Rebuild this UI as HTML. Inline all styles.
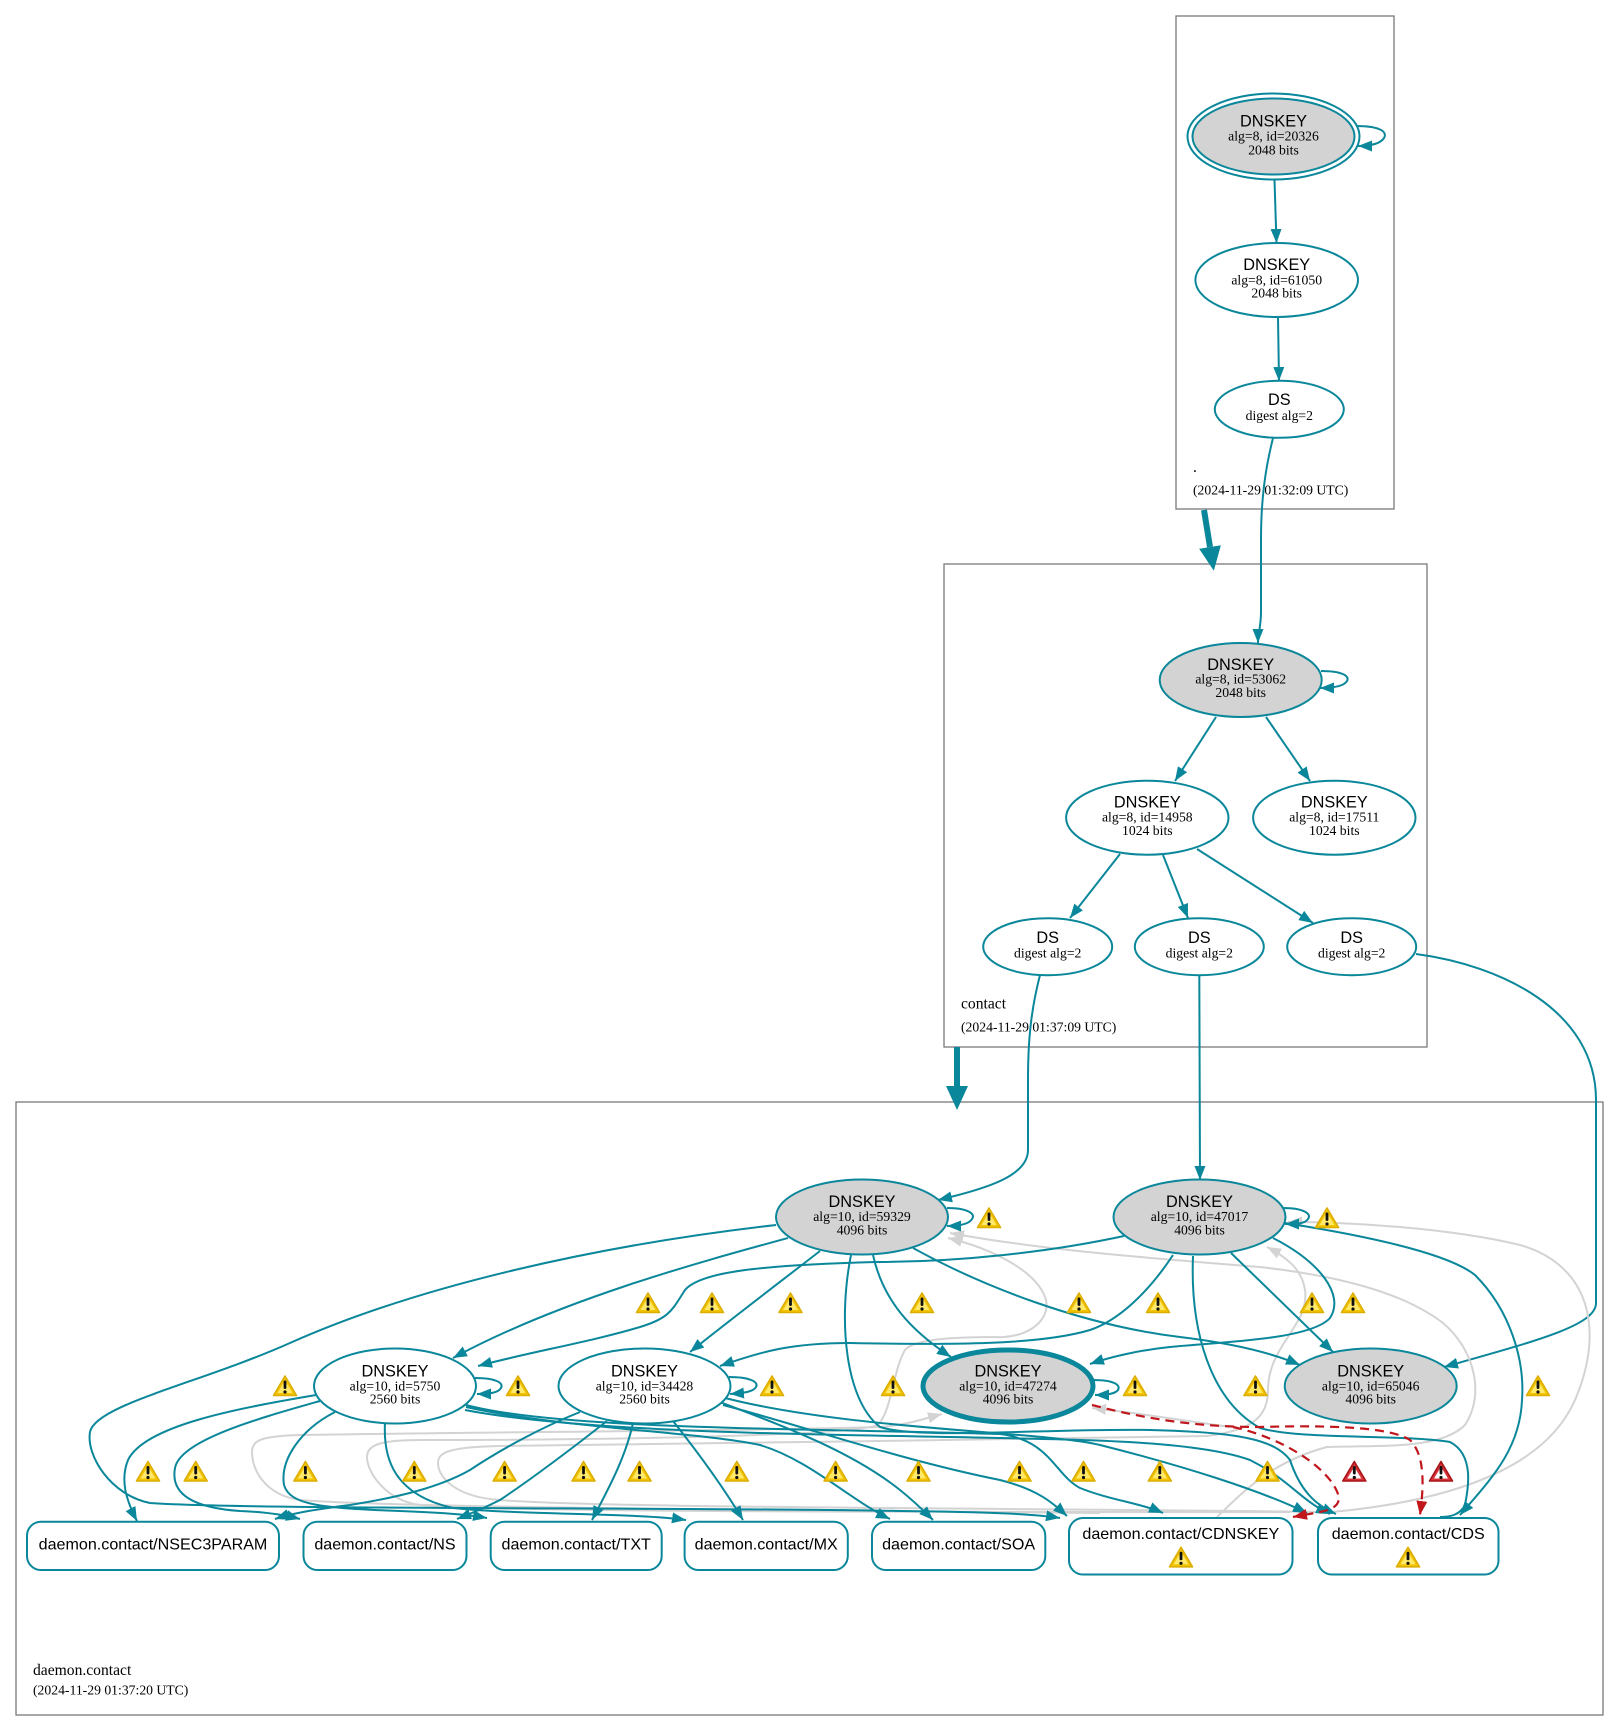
<!DOCTYPE html>
<html>
<head>
<meta charset="utf-8">
<style>
html,body{margin:0;padding:0;background:#fff;}
svg{display:block;}
.sans{font-family:"Liberation Sans",Arial,sans-serif;}
.serif{font-family:"Liberation Serif","Times New Roman",serif;}
</style>
</head>
<body>
<svg width="1619" height="1730" viewBox="0 0 1619 1730" xmlns="http://www.w3.org/2000/svg">
<defs>
  <marker id="at" viewBox="0 0 14 11" refX="14" refY="5.5" markerWidth="14" markerHeight="11" markerUnits="userSpaceOnUse" orient="auto">
    <path d="M0,0L14,5.5L0,11z" fill="#0a879a"/>
  </marker>
  <marker id="ag" viewBox="0 0 14 11" refX="14" refY="5.5" markerWidth="14" markerHeight="11" markerUnits="userSpaceOnUse" orient="auto">
    <path d="M0,0L14,5.5L0,11z" fill="#d3d3d3"/>
  </marker>
  <marker id="ar" viewBox="0 0 14 11" refX="14" refY="5.5" markerWidth="14" markerHeight="11" markerUnits="userSpaceOnUse" orient="auto">
    <path d="M0,0L14,5.5L0,11z" fill="#c0161c"/>
  </marker>
  <marker id="ath" viewBox="0 0 24 22" refX="0" refY="11" markerWidth="24" markerHeight="22" markerUnits="userSpaceOnUse" orient="auto">
    <path d="M0,0L24,11L0,22z" fill="#0a879a"/>
  </marker>
  <g id="warn">
    <path d="M0,-10 L11.5,9.5 L-11.5,9.5 Z" fill="#f3c300" stroke="#dcae00" stroke-width="1.6" stroke-linejoin="round"/>
    <path d="M0,-5.5 L7.5,7 L-7.5,7 Z" fill="#ffe96a"/>
    <rect x="-1.4" y="-5.5" width="2.8" height="8.5" rx="1.2" fill="#111"/>
    <circle cx="0" cy="6" r="1.6" fill="#111"/>
  </g>
  <g id="warnr">
    <path d="M0,-10 L11.5,9.5 L-11.5,9.5 Z" fill="#d9333a" stroke="#a8141a" stroke-width="1.6" stroke-linejoin="round"/>
    <path d="M0,-4.5 L7,7 L-7,7 Z" fill="#fff"/>
    <rect x="-1.4" y="-5.5" width="2.8" height="8.5" rx="1.2" fill="#111"/>
    <circle cx="0" cy="6" r="1.6" fill="#111"/>
  </g>
</defs>

<rect x="0" y="0" width="1619" height="1730" fill="#fff"/>

<!-- ================= clusters ================= -->
<rect x="1176" y="16" width="218" height="493" fill="none" stroke="#7a7a7a" stroke-width="1.3"/>
<rect x="944" y="564" width="483" height="483" fill="none" stroke="#7a7a7a" stroke-width="1.3"/>
<rect x="16" y="1102" width="1587" height="613" fill="none" stroke="#7a7a7a" stroke-width="1.3"/>

<g class="serif" fill="#000">
  <text x="1193" y="472" font-size="15.6">.</text>
  <text x="1193" y="494.3" font-size="13.7">(2024-11-29 01:32:09 UTC)</text>
  <text x="961" y="1008.3" font-size="15.6">contact</text>
  <text x="961" y="1031.7" font-size="13.7">(2024-11-29 01:37:09 UTC)</text>
  <text x="33" y="1675" font-size="15.6">daemon.contact</text>
  <text x="33" y="1694.3" font-size="13.7">(2024-11-29 01:37:20 UTC)</text>
</g>

<!-- ================= top + contact edges ================= -->
<g fill="none" stroke="#0a879a" stroke-width="2">
  <path d="M1356,126 C1378,126 1388,131 1384,138 C1381,143 1372,146 1358,146" marker-end="url(#at)"/>
  <path d="M1274.5,180 L1276.5,243" marker-end="url(#at)"/>
  <path d="M1278,317 L1279,381" marker-end="url(#at)"/>
  <path d="M1273,438 C1265,470 1261,500 1261,540 L1261,612 C1261,626 1258,634 1258,643" marker-end="url(#at)"/>
  <path d="M1321,671 C1342,671 1350,676 1347,681 C1344,686 1335,688 1320,688" marker-end="url(#at)"/>
  <path d="M1216,717 L1175,781" marker-end="url(#at)"/>
  <path d="M1266,717 L1310,781" marker-end="url(#at)"/>
  <path d="M1120,854 L1070,918" marker-end="url(#at)"/>
  <path d="M1163,855 L1188,918" marker-end="url(#at)"/>
  <path d="M1197,849 L1313,923" marker-end="url(#at)"/>
  <!-- DS -> daemon -->
  <path d="M1040,975 C1031,1010 1028,1040 1028,1080 L1028,1150 C1028,1175 990,1188 938,1200" marker-end="url(#at)"/>
  <path d="M1199.3,975 L1200,1180" marker-end="url(#at)"/>
  <path d="M1416,954 C1500,965 1596,1010 1596,1100 L1596,1303 C1596,1325 1540,1340 1444,1367" marker-end="url(#at)"/>
</g>
<!-- thick delegation arrows -->
<g fill="none" stroke="#0a879a" stroke-width="6">
  <path d="M1204,510 L1210,547" marker-end="url(#ath)"/>
  <path d="M957,1047 L957,1086" marker-end="url(#ath)"/>
</g>

<!-- ================= bottom gray edges ================= -->
<g fill="none" stroke="#d3d3d3" stroke-width="2">
  <path d="M1100,1513 C800,1510 400,1508 300,1500 C265,1495 252,1470 252,1452 C252,1440 262,1436 300,1435 C500,1432 800,1430 880,1427 C905,1425 920,1420 942,1414" marker-end="url(#ag)"/>
  <path d="M1290,1512 C900,1512 500,1512 420,1505 C385,1500 367,1472 367,1457 C367,1445 380,1440 420,1440 C600,1440 850,1436 878,1425 C892,1410 893,1370 905,1350 C915,1338 960,1337 1004,1337 C1035,1335 1052,1315 1045,1297 C1035,1270 990,1248 948,1238" marker-end="url(#ag)"/>
  <path d="M1330,1512 C1000,1508 600,1508 500,1500 C455,1497 438,1477 438,1463 C438,1452 450,1447 500,1446 C700,1443 1000,1440 1207,1436 C1255,1430 1268,1415 1268,1390 C1268,1345 1310,1325 1305,1290 C1302,1270 1288,1258 1267,1247" marker-end="url(#ag)"/>
  <path d="M1320,1513 C1420,1505 1540,1480 1575,1400 C1605,1330 1590,1265 1520,1245 C1450,1228 1350,1222 1288,1222" marker-end="url(#ag)"/>
  <path d="M1217,1517 C1240,1495 1270,1462 1327,1447 C1380,1445 1440,1450 1465,1425 C1485,1395 1475,1350 1443,1323 C1400,1290 1330,1275 1260,1267 C1150,1258 1040,1250 950,1233" marker-end="url(#ag)"/>
  <path d="M1230,1427 C1180,1420 1130,1412 1092,1408" marker-end="url(#ag)"/>
</g>

<!-- ================= bottom teal edges ================= -->
<g fill="none" stroke="#0a879a" stroke-width="2">
  <!-- from 59329 -->
  <path d="M776,1225 C600,1245 420,1285 290,1343 C200,1383 95,1405 90,1432 C86,1455 110,1495 150,1503 C250,1510 700,1507 900,1511 C990,1512 1035,1514 1060,1518" marker-end="url(#at)"/>
  <path d="M788,1238 C700,1262 560,1300 453,1358" marker-end="url(#at)"/>
  <path d="M820,1251 C780,1282 730,1320 690,1352" marker-end="url(#at)"/>
  <path d="M873,1255 C883,1300 910,1330 951,1357" marker-end="url(#at)"/>
  <path d="M913,1248 C980,1285 1080,1325 1180,1337 C1230,1343 1270,1352 1300,1365" marker-end="url(#at)"/>
  <path d="M851,1255 C838,1320 845,1400 880,1427 C920,1440 1050,1428 1150,1430 C1240,1432 1275,1440 1290,1460 C1300,1490 1315,1505 1336,1514" marker-end="url(#at)"/>
  <path d="M947,1208 C968,1208 976,1214 972,1219 C969,1224 960,1226 947,1226" marker-end="url(#at)"/>
  <!-- from 47017 -->
  <path d="M1124,1236 C1050,1252 960,1262 876,1262 C760,1265 700,1272 685,1290 C672,1310 670,1318 640,1327 C590,1342 530,1352 478,1366" marker-end="url(#at)"/>
  <path d="M1173,1255 C1150,1290 1120,1320 1090,1330 C1040,1345 950,1345 850,1343 C790,1343 760,1352 720,1366" marker-end="url(#at)"/>
  <path d="M1273,1238 C1320,1262 1345,1295 1330,1318 C1310,1340 1220,1342 1170,1347 C1140,1350 1110,1357 1090,1364" marker-end="url(#at)"/>
  <path d="M1231,1253 L1333,1352" marker-end="url(#at)"/>
  <path d="M1285,1223 C1380,1238 1450,1255 1475,1275 C1510,1310 1525,1360 1522,1400 C1520,1450 1490,1480 1460,1515" marker-end="url(#at)"/>
  <path d="M1193,1256 C1190,1330 1210,1400 1260,1428 C1300,1440 1400,1434 1450,1442 C1475,1455 1468,1490 1465,1505 C1460,1515 1450,1517 1440,1517"/>
  <path d="M1283,1208 C1304,1208 1312,1214 1308,1219 C1305,1224 1296,1224 1285,1224" marker-end="url(#at)"/>
  <!-- from 5750 -->
  <path d="M316,1395 C240,1408 145,1425 128,1460 C120,1480 126,1500 137,1521" marker-end="url(#at)"/>
  <path d="M320,1401 C260,1418 180,1440 175,1468 C170,1495 195,1508 240,1511 C265,1512 285,1515 300,1519" marker-end="url(#at)"/>
  <path d="M335,1412 C300,1430 280,1460 284,1485 C290,1505 320,1508 400,1511 C450,1513 470,1515 487,1518" marker-end="url(#at)"/>
  <path d="M385,1423 C383,1460 395,1495 453,1508 C520,1515 640,1513 686,1520" marker-end="url(#at)"/>
  <path d="M466,1407 C560,1428 700,1432 760,1445 C810,1460 850,1500 890,1519" marker-end="url(#at)"/>
  <path d="M466,1405 C560,1430 800,1428 1000,1434 C1050,1440 1055,1475 1080,1488 C1110,1500 1140,1503 1163,1513" marker-end="url(#at)"/>
  <path d="M465,1410 C600,1436 900,1435 1000,1438 C1100,1440 1200,1442 1250,1460 C1290,1480 1300,1500 1330,1514" marker-end="url(#at)"/>
  <path d="M475,1378 C496,1378 504,1383 501,1388 C498,1393 489,1394 477,1394" marker-end="url(#at)"/>
  <!-- from 34428 -->
  <path d="M580,1412 C540,1428 500,1450 470,1470 C440,1487 400,1497 350,1505 C310,1510 290,1514 275,1519" marker-end="url(#at)"/>
  <path d="M607,1421 C570,1450 530,1480 500,1500 C480,1510 470,1514 457,1519" marker-end="url(#at)"/>
  <path d="M633,1423 C625,1460 605,1495 592,1520" marker-end="url(#at)"/>
  <path d="M673,1421 C700,1455 725,1490 743,1520" marker-end="url(#at)"/>
  <path d="M720,1402 C780,1425 850,1450 900,1490 C915,1502 925,1512 933,1520" marker-end="url(#at)"/>
  <path d="M723,1405 C800,1425 900,1460 1000,1480 C1040,1490 1055,1505 1067,1516" marker-end="url(#at)"/>
  <path d="M725,1398 C850,1430 1050,1432 1100,1445 C1180,1465 1260,1490 1307,1513" marker-end="url(#at)"/>
  <path d="M729,1377 C750,1377 759,1382 756,1387 C753,1392 744,1393 730,1394" marker-end="url(#at)"/>
  <!-- 47274 loop -->
  <path d="M1093,1380 C1114,1380 1121,1385 1118,1390 C1115,1394 1107,1395 1095,1395" marker-end="url(#at)"/>
</g>

<!-- red dashed -->
<g fill="none" stroke="#c0161c" stroke-width="2.2" stroke-dasharray="9,6">
  <path d="M1092,1405 C1150,1420 1200,1427 1260,1427 C1330,1425 1390,1427 1410,1440 C1425,1455 1424,1485 1420,1515" marker-end="url(#ar)"/>
  <path d="M1233,1427 C1270,1435 1310,1455 1330,1480 C1345,1500 1340,1508 1320,1512 L1293,1517" marker-end="url(#ar)"/>
</g>

<!-- ================= nodes ================= -->
<g stroke="#0a879a" stroke-width="2">
  <!-- root -->
  <ellipse cx="1273.5" cy="136.5" rx="86" ry="43" fill="#fff"/>
  <ellipse cx="1273.5" cy="136.5" rx="81" ry="38" fill="#d3d3d3"/>
  <ellipse cx="1276.7" cy="280" rx="81.3" ry="37" fill="#fff"/>
  <ellipse cx="1279.3" cy="409.3" rx="64.5" ry="28.5" fill="#fff"/>
  <!-- contact -->
  <ellipse cx="1240.7" cy="680" rx="81" ry="37" fill="#d3d3d3"/>
  <ellipse cx="1147.3" cy="817.7" rx="81.2" ry="37" fill="#fff"/>
  <ellipse cx="1334.3" cy="817.7" rx="81.2" ry="37" fill="#fff"/>
  <ellipse cx="1047.7" cy="946.7" rx="64.5" ry="28.5" fill="#fff"/>
  <ellipse cx="1199.3" cy="946.7" rx="64.5" ry="28.5" fill="#fff"/>
  <ellipse cx="1351.7" cy="946.7" rx="64.5" ry="28.5" fill="#fff"/>
  <!-- daemon.contact -->
  <ellipse cx="862" cy="1217" rx="86" ry="37.5" fill="#d3d3d3"/>
  <ellipse cx="1199.5" cy="1217" rx="86" ry="37.5" fill="#d3d3d3"/>
  <ellipse cx="395" cy="1386" rx="81" ry="37.5" fill="#fff"/>
  <ellipse cx="644.5" cy="1386" rx="86" ry="37.5" fill="#fff"/>
  <ellipse cx="1008" cy="1386" rx="85" ry="36" fill="#d3d3d3" stroke-width="5"/>
  <ellipse cx="1370.7" cy="1386" rx="86" ry="37.5" fill="#d3d3d3"/>
  <!-- RRsets -->
  <rect x="27" y="1521.7" width="252" height="48.3" rx="14" fill="#fff"/>
  <rect x="303.5" y="1521.7" width="163" height="48.3" rx="14" fill="#fff"/>
  <rect x="490.7" y="1521.7" width="171" height="48.3" rx="14" fill="#fff"/>
  <rect x="684.6" y="1521.7" width="163.2" height="48.3" rx="14" fill="#fff"/>
  <rect x="872" y="1521.7" width="173.3" height="48.3" rx="14" fill="#fff"/>
  <rect x="1069" y="1518" width="223.5" height="56.5" rx="14" fill="#fff"/>
  <rect x="1318" y="1518" width="180.5" height="56.5" rx="14" fill="#fff"/>
</g>

<!-- ================= node text ================= -->
<g text-anchor="middle" fill="#000">
  <g class="sans" font-size="16.3">
    <text x="1273.5" y="126.7">DNSKEY</text>
    <text x="1276.7" y="270">DNSKEY</text>
    <text x="1279.3" y="405">DS</text>
    <text x="1240.7" y="670">DNSKEY</text>
    <text x="1147.3" y="807.7">DNSKEY</text>
    <text x="1334.3" y="807.7">DNSKEY</text>
    <text x="1047.7" y="943">DS</text>
    <text x="1199.3" y="943">DS</text>
    <text x="1351.7" y="943">DS</text>
    <text x="862" y="1207">DNSKEY</text>
    <text x="1199.5" y="1207">DNSKEY</text>
    <text x="395" y="1376.7">DNSKEY</text>
    <text x="644.5" y="1376.7">DNSKEY</text>
    <text x="1008" y="1376.7">DNSKEY</text>
    <text x="1370.7" y="1376.7">DNSKEY</text>
  </g>
  <g class="serif" font-size="13.7">
    <text x="1273.5" y="140.7">alg=8, id=20326</text>
    <text x="1273.5" y="154.3">2048 bits</text>
    <text x="1276.7" y="284.3">alg=8, id=61050</text>
    <text x="1276.7" y="297.7">2048 bits</text>
    <text x="1279.3" y="420">digest alg=2</text>
    <text x="1240.7" y="683.5">alg=8, id=53062</text>
    <text x="1240.7" y="697">2048 bits</text>
    <text x="1147.3" y="821.5">alg=8, id=14958</text>
    <text x="1147.3" y="835">1024 bits</text>
    <text x="1334.3" y="821.5">alg=8, id=17511</text>
    <text x="1334.3" y="835">1024 bits</text>
    <text x="1047.7" y="957.5">digest alg=2</text>
    <text x="1199.3" y="957.5">digest alg=2</text>
    <text x="1351.7" y="957.5">digest alg=2</text>
    <text x="862" y="1221">alg=10, id=59329</text>
    <text x="862" y="1234.5">4096 bits</text>
    <text x="1199.5" y="1221">alg=10, id=47017</text>
    <text x="1199.5" y="1234.5">4096 bits</text>
    <text x="395" y="1390.3">alg=10, id=5750</text>
    <text x="395" y="1403.7">2560 bits</text>
    <text x="644.5" y="1390.3">alg=10, id=34428</text>
    <text x="644.5" y="1403.7">2560 bits</text>
    <text x="1008" y="1390.3">alg=10, id=47274</text>
    <text x="1008" y="1403.7">4096 bits</text>
    <text x="1370.7" y="1390.3">alg=10, id=65046</text>
    <text x="1370.7" y="1403.7">4096 bits</text>
  </g>
  <g class="sans" font-size="16.1">
    <text x="153" y="1549.5">daemon.contact/NSEC3PARAM</text>
    <text x="385" y="1549.5">daemon.contact/NS</text>
    <text x="576.2" y="1549.5">daemon.contact/TXT</text>
    <text x="766.2" y="1549.5">daemon.contact/MX</text>
    <text x="958.6" y="1549.5">daemon.contact/SOA</text>
    <text x="1180.8" y="1539">daemon.contact/CDNSKEY</text>
    <text x="1408.2" y="1539">daemon.contact/CDS</text>
  </g>
</g>

<!-- ================= warning icons ================= -->
<g>
  <use href="#warn" x="989" y="1218"/>
  <use href="#warn" x="1327" y="1218"/>

  <use href="#warn" x="648" y="1303"/>
  <use href="#warn" x="712" y="1303"/>
  <use href="#warn" x="790.5" y="1303"/>
  <use href="#warn" x="922" y="1303"/>
  <use href="#warn" x="1079" y="1303"/>
  <use href="#warn" x="1158" y="1303"/>
  <use href="#warn" x="1312" y="1303"/>
  <use href="#warn" x="1353" y="1303"/>

  <use href="#warn" x="285" y="1386"/>
  <use href="#warn" x="518" y="1386"/>
  <use href="#warn" x="772" y="1386"/>
  <use href="#warn" x="893" y="1386"/>
  <use href="#warn" x="1135" y="1386"/>
  <use href="#warn" x="1255.5" y="1386"/>
  <use href="#warn" x="1538" y="1386"/>

  <use href="#warn" x="148" y="1471.5"/>
  <use href="#warn" x="195.7" y="1471.5"/>
  <use href="#warn" x="305.4" y="1471.5"/>
  <use href="#warn" x="414.3" y="1471.5"/>
  <use href="#warn" x="504.6" y="1471.5"/>
  <use href="#warn" x="583.5" y="1471.5"/>
  <use href="#warn" x="639.5" y="1471.5"/>
  <use href="#warn" x="736.8" y="1471.5"/>
  <use href="#warn" x="835.6" y="1471.5"/>
  <use href="#warn" x="918.5" y="1471.5"/>
  <use href="#warn" x="1019.5" y="1471.5"/>
  <use href="#warn" x="1083.5" y="1471.5"/>
  <use href="#warn" x="1159.8" y="1471.5"/>
  <use href="#warn" x="1267.5" y="1471.5"/>
  <use href="#warnr" x="1354.3" y="1471.5"/>
  <use href="#warnr" x="1441" y="1471.5"/>

  <use href="#warn" x="1181" y="1557.3"/>
  <use href="#warn" x="1408" y="1557.3"/>
</g>
</svg>
</body>
</html>
